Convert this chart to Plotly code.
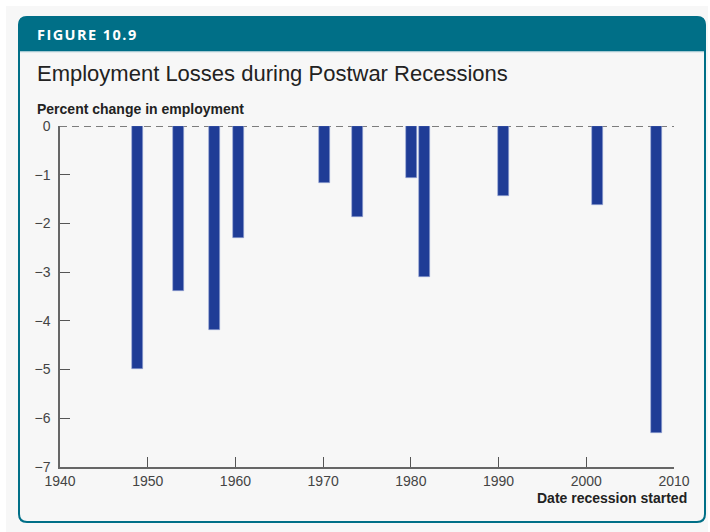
import plotly.graph_objects as go

# ---- data ----
recession_start = [1948.8, 1953.5, 1957.6, 1960.3, 1970.1, 1973.9, 1980.1, 1981.6, 1990.6, 2001.3, 2008.0]
employment_change = [-4.98, -3.39, -4.19, -2.30, -1.18, -1.87, -1.07, -3.10, -1.43, -1.62, -6.31]
x_ticks = [1940, 1950, 1960, 1970, 1980, 1990, 2000, 2010]
y_ticks = [0, -1, -2, -3, -4, -5, -6, -7]

W, H = 710, 532
L, R, T, B = 60, 36, 126, 65
PW, PH = W - L - R, H - T - B

def px(x):
    return (x - L) / PW

def py(y):
    return (H - B - y) / PH

TEAL = "#006f87"
BG = "#f7f7f7"
TICKFONT = dict(family="Liberation Sans, Arial", size=14, color="#444")

def rounded_rect(x0, y0, x1, y1, r, top_only=False):
    p = []
    p.append(f"M {px(x0)},{py(y0 + r)}")
    p.append(f"Q {px(x0)},{py(y0)} {px(x0 + r)},{py(y0)}")
    p.append(f"L {px(x1 - r)},{py(y0)}")
    p.append(f"Q {px(x1)},{py(y0)} {px(x1)},{py(y0 + r)}")
    if top_only:
        p.append(f"L {px(x1)},{py(y1)}")
        p.append(f"L {px(x0)},{py(y1)}")
    else:
        p.append(f"L {px(x1)},{py(y1 - r)}")
        p.append(f"Q {px(x1)},{py(y1)} {px(x1 - r)},{py(y1)}")
        p.append(f"L {px(x0 + r)},{py(y1)}")
        p.append(f"Q {px(x0)},{py(y1)} {px(x0)},{py(y1 - r)}")
    p.append("Z")
    return " ".join(p)

fig = go.Figure()
fig.add_trace(go.Bar(
    x=recession_start,
    y=employment_change,
    width=1.25,
    marker=dict(color="#1f3c96", line=dict(color="#9aa8d6", width=0.6)),
    hoverinfo="x+y",
))

shapes = [
    # page background
    dict(type="rect", xref="paper", yref="paper", x0=px(6), x1=px(708), y0=py(6), y1=py(532),
         fillcolor=BG, line=dict(width=0), layer="below"),
    # card
    dict(type="path", xref="paper", yref="paper", path=rounded_rect(19, 17, 705, 522, 8),
         fillcolor=BG, line=dict(color=TEAL, width=2), layer="below"),
    # header band
    dict(type="path", xref="paper", yref="paper", path=rounded_rect(19, 17, 705, 51, 8, top_only=True),
         fillcolor=TEAL, line=dict(color=TEAL, width=1), layer="below"),
    dict(type="line", xref="paper", yref="paper", x0=px(20), x1=px(704), y0=py(52), y1=py(52),
         line=dict(color="#cfe0e5", width=1), layer="below"),
    # dashed zero line
    dict(type="line", xref="x", yref="y", x0=1940, x1=2010, y0=0, y1=0,
         line=dict(color="#555", width=1.5, dash="7px,5px"), layer="below"),
]

fig_title = "\u200a".join("FIGURE 10.9")

annotations = [
    dict(text="<b>" + fig_title + "</b>", x=px(35), y=py(34), xref="paper", yref="paper",
         xanchor="left", yanchor="middle", showarrow=False,
         font=dict(family="Open Sans, Liberation Sans, Arial", size=14.5, color="white")),
    dict(text="Employment Losses during Postwar Recessions", x=px(35), y=py(74), xref="paper", yref="paper",
         xanchor="left", yanchor="middle", showarrow=False,
         font=dict(family="Liberation Sans, Arial", size=22, color="#222")),
    dict(text="<b>Percent change in employment</b>", x=px(35), y=py(109), xref="paper", yref="paper",
         xanchor="left", yanchor="middle", showarrow=False,
         font=dict(family="Liberation Sans, Arial", size=14, color="#222")),
    dict(text="<b>Date recession started</b>", x=px(689), y=py(498), xref="paper", yref="paper",
         xanchor="right", yanchor="middle", showarrow=False,
         font=dict(family="Liberation Sans, Arial", size=14, color="#222")),
]

fig.update_layout(
    width=W, height=H,
    margin=dict(l=L, r=R, t=T, b=B, pad=0),
    paper_bgcolor="white",
    plot_bgcolor="rgba(0,0,0,0)",
    showlegend=False,
    shapes=shapes,
    annotations=annotations,
    bargap=0,
)
fig.update_xaxes(
    range=[1940, 2010], tickvals=x_ticks, ticktext=[str(v) for v in x_ticks],
    ticks="inside", ticklen=10, tickwidth=1.2, tickcolor="#555",
    showline=True, linecolor="#666", linewidth=1.5,
    showgrid=False, zeroline=False, tickfont=TICKFONT,
)
fig.update_yaxes(
    range=[-7, 0], tickvals=y_ticks, ticktext=["0" if v == 0 else "\u2212" + str(-v) for v in y_ticks],
    ticks="inside", ticklen=10, tickwidth=1.2, tickcolor="#555",
    showline=True, linecolor="#666", linewidth=1.5,
    showgrid=False, zeroline=False, tickfont=TICKFONT, ticklabelstandoff=5,
)

fig.write_html("out.html")
